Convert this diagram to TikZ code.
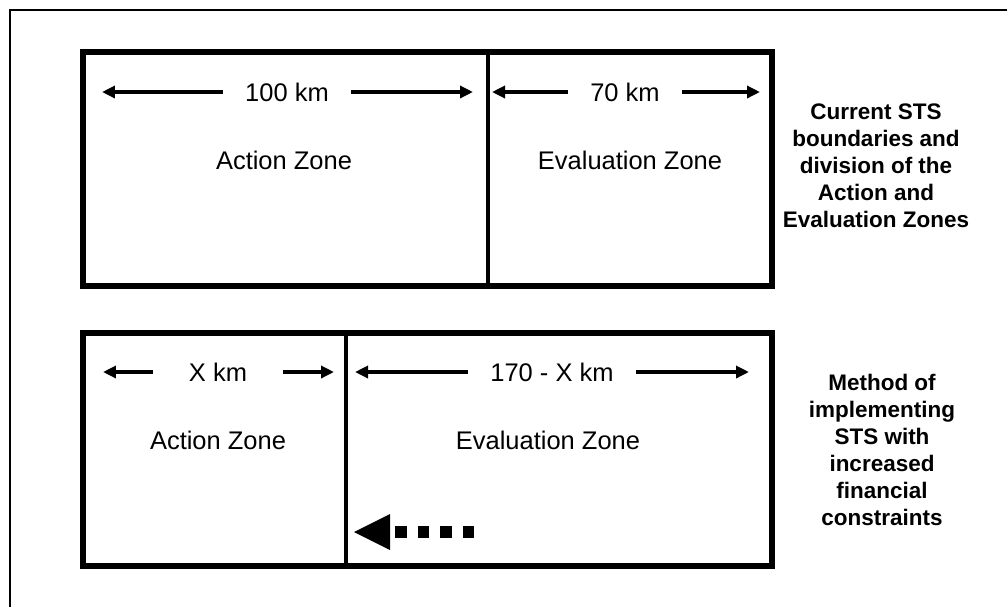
\documentclass[tikz,border=0pt]{standalone}
\usepackage{fontspec}
\setmainfont{Liberation Sans}
\usetikzlibrary{arrows.meta}

\begin{document}
\begin{tikzpicture}[
   x = 0.02cm, y = -0.02cm,
   zone/.style = {line width = 0.11cm},
   split/.style = {line width = 0.09cm},
   dim/.style = {line width = 0.085cm, -{Triangle[length=0.26cm, width=0.24cm]},
                 shorten < = 0.44cm},
   lbl/.style = {inner sep = 0pt, text=black, font=\fontsize{14.5}{17}\selectfont},
   note/.style = {inner sep = 0pt, align=center,
                  font=\fontsize{12.8}{15.4}\selectfont\bfseries},
]
   \useasboundingbox (0,0) rectangle (1007,606);
   % outer frame
   \draw [line width = 0.04cm] (10,620) -- (10,10) -- (1020,10);
   % current zones
   \draw [zone] (83,52) rectangle (772,286);
   \draw [split] (488,52) -- (488,286);
   \node [lbl] (t100) at (287,92) {100 km};
   \coordinate (t100l) at (102,92);
   \coordinate (t100r) at (473,92);
   \draw [dim] (t100) -- (t100l);
   \draw [dim] (t100) -- (t100r);
   \node [lbl] (t70) at (625,92) {70 km};
   \coordinate (t70l) at (492,92);
   \coordinate (t70r) at (760,92);
   \draw [dim] (t70) -- (t70l);
   \draw [dim] (t70) -- (t70r);
   \node [lbl] (actA) at (284,160) {Action Zone};
   \node [lbl] (evalA) at (630,160) {Evaluation Zone};
   \node [note] (noteA) at (876,166)
      {Current STS\\boundaries and\\division of the\\Action and\\Evaluation Zones};
   % constrained zones
   \draw [zone] (83,333) rectangle (772,566);
   \draw [split] (346,333) -- (346,566);
   \node [lbl] (tx) at (218,372) {X km};
   \coordinate (txl) at (103,372);
   \coordinate (txr) at (334,372);
   \draw [dim, shorten < = 0.72cm] (tx) -- (txl);
   \draw [dim, shorten < = 0.72cm] (tx) -- (txr);
   \node [lbl] (trest) at (552,372) {170 - X km};
   \coordinate (trestl) at (355,372);
   \coordinate (trestr) at (749,372);
   \draw [dim] (trest) -- (trestl);
   \draw [dim] (trest) -- (trestr);
   \node [lbl] (actB) at (218,440) {Action Zone};
   \node [lbl] (evalB) at (548,440) {Evaluation Zone};
   \node [note] (noteB) at (882,450)
      {Method of\\implementing\\STS with\\increased\\financial\\constraints};
   % shift of the boundary
   \coordinate (shift) at (474,532);
   \coordinate (shiftend) at (395,532);
   \draw [line width = 0.23cm, dash pattern = on 0.23cm off 0.22cm]
      (shift) -- (shiftend);
   \fill (354,532) -- (390,514) -- (390,550) -- cycle;
\end{tikzpicture}
\end{document}
